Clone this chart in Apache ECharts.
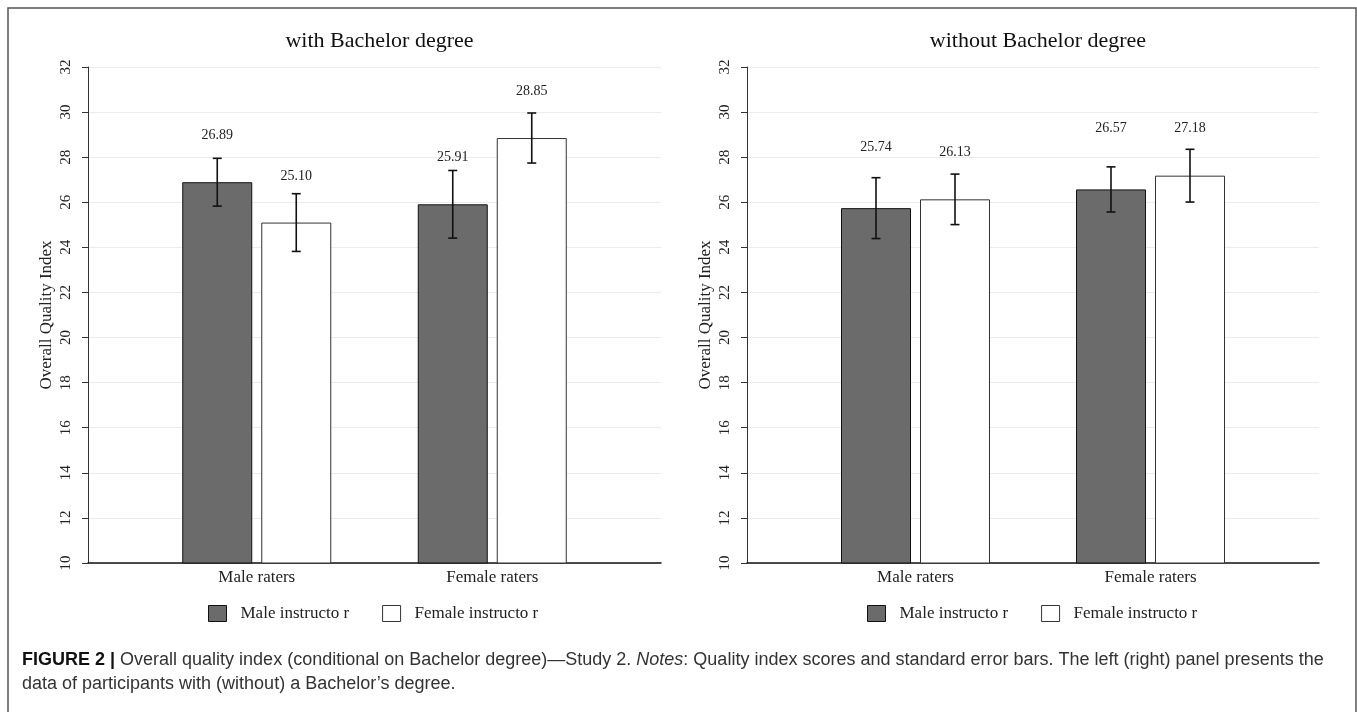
<!DOCTYPE html>
<html>
<head>
<meta charset="utf-8">
<style>
html,body{margin:0;padding:0;background:#fff;}
#chart{width:1357px;height:712px;}
</style>
<script src="https://cdn.jsdelivr.net/npm/echarts@6/dist/echarts.min.js"></script>
</head>
<body>
<div id="chart"></div>
<script>
// ---- data ----
const categories = ['Male raters', 'Female raters'];
const seriesNames = ['Male instructo r', 'Female instructo r'];
const panelTitles = ['with Bachelor degree', 'without Bachelor degree'];
const yAxisName = 'Overall Quality Index';
const yMin = 10, yMax = 32, yInterval = 2;

const withMale = [26.89, 25.91];
const withFemale = [25.10, 28.85];
const withMaleSE = [1.06, 1.50];
const withFemaleSE = [1.28, 1.11];

const withoutMale = [25.74, 26.57];
const withoutFemale = [26.13, 27.18];
const withoutMaleSE = [1.35, 1.00];
const withoutFemaleSE = [1.12, 1.17];

const captionBold = 'FIGURE 2 |';
const captionA = ' Overall quality index (conditional on Bachelor degree)\u2014Study 2. ';
const captionItalic = 'Notes';
const captionB = ': Quality index scores and standard error bars. The left (right) panel presents the';
const captionLine2 = 'data of participants with (without) a Bachelor\u2019s degree.';

// ---- layout/style ----
const SERIF = '"Liberation Serif","Times New Roman",serif';
const SANS = '"Liberation Sans",Arial,sans-serif';
const DARK = '#6b6b6b';
const BAR_W = 70, BAR_GAP = 9;
const panels = [
  {frameLeft: 88, frameWidth: 573, barLeft: 139, barWidth: 471, legendLeft: 208,
   labelLift: [2.1, 2.05],
   male: withMale, female: withFemale, maleSE: withMaleSE, femaleSE: withFemaleSE},
  {frameLeft: 747, frameWidth: 572, barLeft: 798, barWidth: 470, legendLeft: 867,
   labelLift: [2.7, 2.1],
   male: withoutMale, female: withoutFemale, maleSE: withoutMaleSE, femaleSE: withoutFemaleSE}
];
const TOP = 67, HEIGHT = 496;

const grid = [], xAxis = [], yAxis = [], series = [], title = [], legend = [];

function errRender(offset, lift) {
  return function (params, api) {
    const c = api.value(0), v = api.value(1), se = api.value(2);
    const hi = api.coord([c, v + se]);
    const lo = api.coord([c, v - se]);
    const lab = api.coord([c, v + lift]);
    const x = hi[0] + offset;
    const cap = 4.5;
    const st = {stroke: '#111', lineWidth: 1.6};
    return {
      type: 'group',
      children: [
        {type: 'line', shape: {x1: x, y1: hi[1], x2: x, y2: lo[1]}, style: st},
        {type: 'line', shape: {x1: x - cap, y1: hi[1], x2: x + cap, y2: hi[1]}, style: st},
        {type: 'line', shape: {x1: x - cap, y1: lo[1], x2: x + cap, y2: lo[1]}, style: st},
        {type: 'text', x: x, y: lab[1], style: {text: v.toFixed(2), fontFamily: SERIF, fontSize: 14,
          fill: '#222', align: 'center', verticalAlign: 'middle'}}
      ]
    };
  };
}

panels.forEach((p, i) => {
  const gf = i * 2, gb = i * 2 + 1;
  grid.push({left: p.frameLeft, top: TOP, width: p.frameWidth, height: HEIGHT});
  grid.push({left: p.barLeft, top: TOP, width: p.barWidth, height: HEIGHT});
  xAxis.push({gridIndex: gf, type: 'value', min: 0, max: 1,
    axisLine: {show: true, onZero: false, lineStyle: {color: '#111', width: 1.5}},
    axisTick: {show: false}, axisLabel: {show: false}, splitLine: {show: false}});
  xAxis.push({gridIndex: gb, type: 'category', data: categories,
    axisLine: {show: false}, axisTick: {show: false},
    axisLabel: {fontFamily: SERIF, fontSize: 17, color: '#222', margin: 6}});
  yAxis.push({gridIndex: gf, type: 'value', min: yMin, max: yMax, interval: yInterval,
    name: yAxisName, nameLocation: 'middle', nameGap: 33,
    nameTextStyle: {fontFamily: SERIF, fontSize: 17, color: '#222'},
    axisLine: {show: true, lineStyle: {color: '#333', width: 1}},
    axisTick: {show: true, length: 6, lineStyle: {color: '#333'}},
    axisLabel: {rotate: 90, fontFamily: SERIF, fontSize: 15, color: '#222', margin: 14},
    splitLine: {show: true, lineStyle: {color: '#ececec', width: 1.2}}});
  yAxis.push({gridIndex: gb, type: 'value', min: yMin, max: yMax, show: false});

  series.push({name: seriesNames[0], type: 'bar', xAxisIndex: gb, yAxisIndex: gb,
    data: p.male, barWidth: BAR_W, barGap: (BAR_GAP / BAR_W * 100) + '%',
    itemStyle: {color: DARK, borderColor: '#111', borderWidth: 1}, z: 2});
  series.push({name: seriesNames[1], type: 'bar', xAxisIndex: gb, yAxisIndex: gb,
    data: p.female, barWidth: BAR_W,
    itemStyle: {color: '#fff', borderColor: '#333', borderWidth: 1}, z: 2});
  const off = (BAR_W + BAR_GAP) / 2;
  series.push({type: 'custom', xAxisIndex: gb, yAxisIndex: gb, z: 5,
    renderItem: errRender(-off, p.labelLift[0]), data: p.male.map((v, k) => [k, v, p.maleSE[k]])});
  series.push({type: 'custom', xAxisIndex: gb, yAxisIndex: gb, z: 5,
    renderItem: errRender(off, p.labelLift[1]), data: p.female.map((v, k) => [k, v, p.femaleSE[k]])});

  title.push({text: panelTitles[i], left: p.frameLeft + p.frameWidth / 2, top: 25, textAlign: 'center',
    textStyle: {fontFamily: SERIF, fontSize: 22, fontWeight: 'normal', color: '#111'}});
  legend.push({left: p.legendLeft, top: 605, padding: 0, itemWidth: 18, itemHeight: 16, itemGap: 33,
    selectedMode: false,
    textStyle: {fontFamily: SERIF, fontSize: 17, color: '#222', padding: [0, 0, 0, 9]},
    data: [
      {name: seriesNames[0], icon: 'rect', itemStyle: {color: DARK, borderColor: '#111', borderWidth: 1}},
      {name: seriesNames[1], icon: 'rect', itemStyle: {color: '#fff', borderColor: '#333', borderWidth: 1}}
    ]});
});

const chart = echarts.init(document.getElementById('chart'), null, {renderer: 'canvas'});
chart.setOption({
  animation: false,
  backgroundColor: '#fff',
  title, legend, grid, xAxis, yAxis, series,
  graphic: [
    {type: 'rect', shape: {x: 8, y: 8, width: 1348, height: 720}, silent: true,
      style: {fill: 'none', stroke: '#555', lineWidth: 1.5}},
    {type: 'text', left: 22, top: 651, silent: true,
      style: {
        text: '{b|' + captionBold + '}{n|' + captionA + '}{i|' + captionItalic + '}{n|' + captionB + '}',
        rich: {
          b: {fontFamily: SANS, fontSize: 18, fontWeight: 'bold', fill: '#111'},
          n: {fontFamily: SANS, fontSize: 18, fill: '#333'},
          i: {fontFamily: SANS, fontSize: 18, fontStyle: 'italic', fill: '#333'}
        }
      }},
    {type: 'text', left: 22, top: 675, silent: true,
      style: {text: captionLine2, fontFamily: SANS, fontSize: 18, fill: '#333'}}
  ]
});
</script>
</body>
</html>
